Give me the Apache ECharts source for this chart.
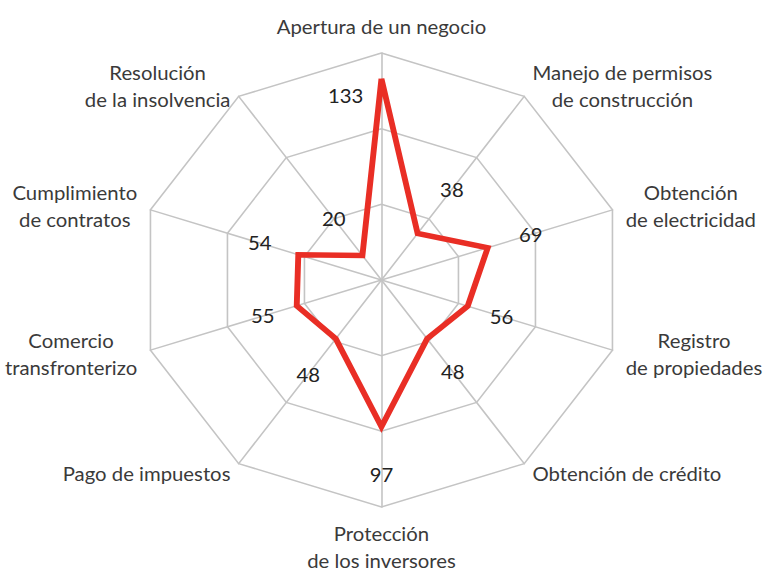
<!DOCTYPE html>
<html>
<head>
<meta charset="utf-8">
<script src="https://cdn.jsdelivr.net/npm/echarts@6/dist/echarts.min.js"></script>
<style>
  html, body { margin: 0; padding: 0; background: #fff; overflow: hidden; }
  #wrap { width: 771px; height: 570px; position: relative; overflow: hidden; }
  #chart { width: 720.6px; height: 570px; transform: scaleX(1.07); transform-origin: 0 0; }
</style>
</head>
<body>
<div id="wrap"><div id="chart"></div></div>
<script>
// Indicators in ECharts order (counter-clockwise from the top)
const categories = [
  'Apertura de un negocio',
  'Resolución\nde la insolvencia',
  'Cumplimiento\nde contratos',
  'Comercio\ntransfronterizo',
  'Pago de impuestos',
  'Protección\nde los inversores',
  'Obtención de crédito',
  'Registro\nde propiedades',
  'Obtención\nde electricidad',
  'Manejo de permisos\nde construcción'
];
const values = [133, 20, 54, 55, 48, 97, 48, 56, 69, 38];
const axisMax = 150;
// radius (in axis units) at which each value label is written
const labelRadius = [122, 50, 79, 77, 77, 129, 75, 78, 97, 74];

const chart = echarts.init(document.getElementById('chart'), null, { renderer: 'svg' });
const gridColor = '#c4c4c4';
const nameFont = { color: '#3a3a3a', fontFamily: 'Lato', fontSize: 19, lineHeight: 27 };
chart.setOption({
  animation: false,
  radar: {
    center: [356.5, 280],
    radius: 227,
    startAngle: 90,
    splitNumber: 3,
    shape: 'polygon',
    nameGap: 13,
    indicator: categories.map(n => ({ name: n, min: 0, max: axisMax })),
    axisName: Object.assign({}, nameFont, {
      formatter: function (name) {
        return name.split('\n').map(l => '{c|' + l + '}').join('\n');
      },
      rich: {
        c: Object.assign({ align: 'center' }, nameFont)
      }
    }),
    splitLine: { lineStyle: { color: gridColor, width: 1.5 } },
    splitArea: { show: false },
    axisLine: { lineStyle: { color: gridColor, width: 1.5 } },
    axisTick: { show: false },
    axisLabel: { show: false }
  },
  series: [
    {
      type: 'radar',
      symbol: 'none',
      silent: true,
      lineStyle: { color: '#e92e25', width: 5.5, join: 'miter', miterLimit: 20 },
      data: [{ value: values }]
    },
    {
      type: 'radar',
      symbol: 'circle',
      symbolSize: 2,
      silent: true,
      itemStyle: { color: 'rgba(0,0,0,0)' },
      lineStyle: { width: 0, opacity: 0 },
      label: {
        show: true,
        position: 'inside',
        color: '#222',
        fontFamily: 'Lato',
        fontSize: 19,
        formatter: function (p) {
          const v = values[p.dimensionIndex];
          return p.dimensionIndex === 0 ? '{s|' + v + '}' : '{n|' + v + '}';
        },
        rich: {
          s: { color: '#222', fontFamily: 'Lato', fontSize: 19, padding: [0, 67, 0, 0] },
          n: { color: '#222', fontFamily: 'Lato', fontSize: 19 }
        }
      },
      data: [{ value: labelRadius }]
    }
  ]
});
</script>
</body>
</html>
